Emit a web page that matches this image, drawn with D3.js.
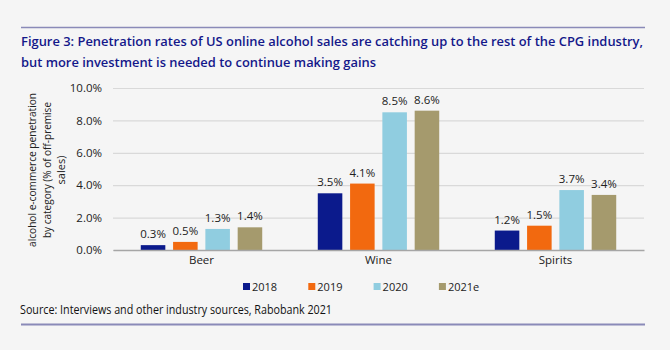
<!DOCTYPE html>
<html>
<head>
<meta charset="utf-8">
<script src="https://cdn.jsdelivr.net/npm/d3@7"></script>
<style>
  body { margin: 0; background: #f5f5f5; }
  svg { display: block; font-family: "Open Sans", "Noto Sans", sans-serif; }
</style>
</head>
<body>
<svg width="670" height="350"></svg>
<script>
// data
const categories = ["Beer", "Wine", "Spirits"];
const years = ["2018", "2019", "2020", "2021e"];
const values2018 = [0.3, 3.5, 1.2];
const values2019 = [0.5, 4.1, 1.5];
const values2020 = [1.3, 8.5, 3.7];
const values2021e = [1.4, 8.6, 3.4];
const yTicks = [0, 2, 4, 6, 8, 10];
const colors = ["#0b1a8c", "#f2690f", "#90cde0", "#a59a6d"];

const series = [values2018, values2019, values2020, values2021e];
const rows = categories.map((c, i) => ({
    cat: c,
    vals: years.map((y, j) => ({ year: y, v: series[j][i], color: colors[j] }))
}));

const svg = d3.select("svg");
svg.append("rect").attr("width", 670).attr("height", 350).attr("fill", "#f5f5f5");

// rules top and bottom
svg.append("line").attr("x1", 21).attr("x2", 645).attr("y1", 27.5).attr("y2", 27.5)
    .attr("stroke", "#8a8ab8").attr("stroke-width", 1.5);
svg.append("line").attr("x1", 21).attr("x2", 645).attr("y1", 324.5).attr("y2", 324.5)
    .attr("stroke", "#8a8ab8").attr("stroke-width", 2);

// title
const titleLines = [
    "Figure 3: Penetration rates of US online alcohol sales are catching up to the rest of the CPG industry,",
    "but more investment is needed to continue making gains"
];
const titleWidths = [622, 355];
svg.selectAll(".title").data(titleLines).enter().append("text")
    .attr("class", "title")
    .attr("x", 21)
    .attr("y", (d, i) => 46 + i * 21)
    .attr("textLength", (d, i) => titleWidths[i])
    .attr("lengthAdjust", "spacingAndGlyphs")
    .style("font-size", "13px")
    .style("font-weight", "600")
    .style("fill", "#14188a")
    .text(d => d);

// scales
const plotLeft = 113, plotRight = 644, yTop = 88, yBottom = 250;
const x0 = d3.scaleBand().domain(categories).range([plotLeft, plotRight]);
const x1 = d3.scaleBand().domain(years).range([0, x0.bandwidth()])
    .paddingInner(0.24).paddingOuter(0.86);
const y = d3.scaleLinear().domain([0, 10]).range([yBottom, yTop]);

// y axis with gridlines
const yAxisGroup = svg.append("g")
    .attr("transform", `translate(${plotLeft},0)`)
    .call(d3.axisLeft(y).tickValues(yTicks).tickSize(-(plotRight - plotLeft)).tickPadding(11)
        .tickFormat(d => d.toFixed(1) + "%"));
yAxisGroup.select(".domain").remove();
yAxisGroup.selectAll("line").attr("stroke", "#d9d9d9").attr("stroke-width", 1.2);
yAxisGroup.selectAll("text").style("font-size", "11.5px").style("fill", "#222")
    .style("font-family", "'Open Sans', sans-serif");

// bars
const groups = svg.selectAll(".grp").data(rows).enter().append("g")
    .attr("transform", d => `translate(${x0(d.cat)},0)`);

groups.selectAll("rect").data(d => d.vals).enter().append("rect")
    .attr("x", d => x1(d.year))
    .attr("width", x1.bandwidth())
    .attr("y", d => y(d.v))
    .attr("height", d => y(0) - y(d.v))
    .attr("fill", d => d.color);

groups.selectAll(".val").data(d => d.vals).enter().append("text")
    .attr("class", "val")
    .attr("x", d => x1(d.year) + x1.bandwidth() / 2)
    .attr("y", d => y(d.v) - 7)
    .attr("text-anchor", "middle")
    .style("font-size", "11.5px")
    .style("fill", "#222")
    .text(d => d.v.toFixed(1) + "%");

// x axis
const xAxisGroup = svg.append("g")
    .attr("transform", `translate(0,${yBottom})`)
    .call(d3.axisBottom(x0).tickSize(0).tickPadding(6));
xAxisGroup.select(".domain").attr("stroke", "#a6a6a6").attr("stroke-width", 1.5);
xAxisGroup.selectAll("text").style("font-size", "11.5px").style("fill", "#222")
    .style("font-family", "'Open Sans', sans-serif");

// y axis title
const yTitle = ["alcohol e-commerce penetration", "by category (% of off-premise", "sales)"];
const yTitleWidths = [154, 136, null];
svg.selectAll(".ytitle").data(yTitle).enter().append("text")
    .attr("class", "ytitle")
    .attr("transform", (d, i) => `translate(${36 + i * 14.5},170) rotate(-90)`)
    .attr("text-anchor", "middle")
    .each(function(d, i) {
        if (yTitleWidths[i]) d3.select(this).attr("textLength", yTitleWidths[i]).attr("lengthAdjust", "spacingAndGlyphs");
    })
    .style("font-size", "11px")
    .style("fill", "#222")
    .text(d => d);

// legend
const legend = svg.selectAll(".leg").data(years).enter().append("g")
    .attr("transform", (d, i) => `translate(${243 + i * 65.3},287)`);
legend.append("rect").attr("x", 0).attr("y", -4).attr("width", 7).attr("height", 7)
    .attr("fill", (d, i) => colors[i]);
legend.append("text").attr("x", 9).attr("y", 4)
    .style("font-size", "11px").style("fill", "#222").text(d => d);

// source
svg.append("text").attr("x", 20).attr("y", 314)
    .attr("textLength", 312).attr("lengthAdjust", "spacingAndGlyphs")
    .style("font-size", "12px").style("fill", "#111")
    .text("Source: Interviews and other industry sources, Rabobank 2021");
</script>
</body>
</html>
